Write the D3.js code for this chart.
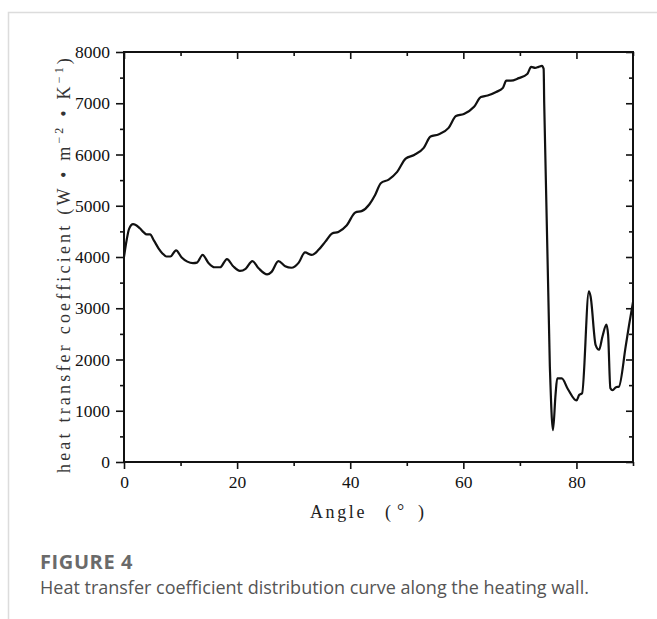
<!DOCTYPE html>
<html>
<head>
<meta charset="utf-8">
<script src="https://cdn.jsdelivr.net/npm/d3@7"></script>
<style>
  body { margin: 0; background: #fff; }
  svg { display: block; }
</style>
</head>
<body>
<div id="chart-area"></div>
<script>
// data: angle (deg) and heat transfer coefficient (W m-2 K-1)
const angles = [0, 0.2, 0.5, 0.9, 1.6, 2.0, 2.8, 3.5, 4.0, 4.6, 5.3, 6.1, 6.8, 7.5, 8.2, 9.2, 10.2, 11.2,
  12.2, 12.9, 13.9, 14.9, 16.0, 17.0, 18.2, 19.3, 20.5, 21.5, 22.7, 23.8, 25.3, 26.1, 27.3, 28.5, 29.6,
  30.9, 32.0, 33.2, 34.4, 35.6, 36.8, 37.9, 39.4, 40.9, 42.1, 43.4, 44.4, 45.4, 46.8, 48.3, 49.8, 51.3,
  53.0, 54.2, 55.6, 57.4, 58.7, 60.1, 61.9, 63.1, 64.3, 65.8, 67.0, 67.6, 68.4, 69.8, 71.3, 72.0, 72.7,
  73.3, 73.9, 74.2, 74.3, 75.3, 75.85, 76.3, 76.6, 77.4, 78.5, 80.0, 80.5, 81.0, 82.2, 82.5, 83.4, 84.0,
  84.6, 85.3, 85.6, 86.0, 86.4, 87.0, 87.5, 88.7, 89.3, 90];
const coefficients = [4000, 4150, 4350, 4550, 4640, 4630, 4560, 4480, 4440, 4440, 4320, 4170, 4070, 4010, 4010, 4130, 3990, 3910,
  3880, 3890, 4040, 3890, 3800, 3800, 3960, 3820, 3730, 3770, 3920, 3780, 3660, 3710, 3920, 3820, 3790,
  3890, 4090, 4040, 4140, 4300, 4460, 4490, 4620, 4870, 4900, 5030, 5210, 5440, 5510, 5660, 5920, 5990,
  6130, 6350, 6390, 6520, 6750, 6790, 6930, 7120, 7150, 7220, 7300, 7440, 7440, 7490, 7570, 7710, 7690,
  7710, 7730, 7670, 7000, 1860, 620, 1310, 1630, 1630, 1420, 1200, 1310, 1340, 3330, 3230, 2280, 2190,
  2450, 2680, 2480, 1440, 1400, 1460, 1470, 2250, 2670, 3120];

const xMajor = [0, 20, 40, 60, 80];
const xMinor = [10, 30, 50, 70, 90];
const yMajor = [0, 1000, 2000, 3000, 4000, 5000, 6000, 7000, 8000];
const yMinor = [500, 1500, 2500, 3500, 4500, 5500, 6500, 7500];

const margin = {top: 52, right: 24, bottom: 157, left: 124};
const width = 509;
const height = 410;

const svg = d3.select("#chart-area")
  .append("svg")
  .attr("width", 657)
  .attr("height", 619);

// card border (top and left only)
svg.append("path")
  .attr("d", "M8.5,619V12.5H657")
  .attr("fill", "none")
  .attr("stroke", "#dcdcdc")
  .attr("stroke-width", 1.5);

const group = svg.append("g")
  .attr("transform", `translate(${margin.left}, ${margin.top})`);

// scales
const x = d3.scaleLinear().domain([0, 90]).range([0, width]);
const y = d3.scaleLinear().domain([0, 8000]).range([height, 0]);

const serif = "'Liberation Serif', 'Times New Roman', serif";

function styleAxis(g) {
  g.select(".domain").remove();
  g.selectAll("line").attr("stroke", "#111").attr("stroke-width", 1.6);
  g.selectAll("text").attr("font-family", serif).attr("font-size", "17.5px").attr("fill", "#111");
}

// bottom
group.append("g").attr("transform", `translate(0, ${height})`)
  .call(d3.axisBottom(x).tickValues(xMajor).tickSize(7).tickPadding(7).tickFormat(d3.format("d")))
  .call(styleAxis);
group.append("g").attr("transform", `translate(0, ${height})`)
  .call(d3.axisBottom(x).tickValues(xMinor).tickSize(4).tickFormat(""))
  .call(styleAxis);

// top (inward)
group.append("g")
  .call(d3.axisTop(x).tickValues(xMajor).tickSize(-7).tickFormat(""))
  .call(styleAxis);
group.append("g")
  .call(d3.axisTop(x).tickValues(xMinor).tickSize(-4).tickFormat(""))
  .call(styleAxis);

// left
group.append("g")
  .call(d3.axisLeft(y).tickValues(yMajor).tickSize(8).tickPadding(6).tickFormat(d3.format("d")))
  .call(styleAxis);
group.append("g")
  .call(d3.axisLeft(y).tickValues(yMinor).tickSize(4).tickFormat(""))
  .call(styleAxis);

// right (inward)
group.append("g").attr("transform", `translate(${width}, 0)`)
  .call(d3.axisRight(y).tickValues(yMajor).tickSize(-7).tickFormat(""))
  .call(styleAxis);
group.append("g").attr("transform", `translate(${width}, 0)`)
  .call(d3.axisRight(y).tickValues(yMinor).tickSize(-4).tickFormat(""))
  .call(styleAxis);

// frame
group.append("rect")
  .attr("width", width)
  .attr("height", height)
  .attr("fill", "none")
  .attr("stroke", "#111")
  .attr("stroke-width", 2);

// curve
const points = angles.map((a, i) => [a, coefficients[i]]);
const line = d3.line().curve(d3.curveMonotoneX).x(d => x(d[0])).y(d => y(d[1]));
group.append("path")
  .datum(points)
  .attr("d", line)
  .attr("fill", "none")
  .attr("stroke", "#111")
  .attr("stroke-width", 2.2)
  .attr("stroke-linejoin", "round");

// x label
const xLabel = group.append("text")
  .attr("y", height + 56)
  .attr("font-family", serif)
  .attr("font-size", "18px")
  .attr("fill", "#222");
xLabel.append("tspan").attr("x", 186).attr("letter-spacing", "2.6px").text("Angle");
xLabel.append("tspan").attr("x", 261).text("(");
xLabel.append("tspan").attr("x", 273).attr("dy", -1).text("°");
xLabel.append("tspan").attr("x", 294).attr("dy", 1).text(")");

// y label
const yLabel = group.append("text")
  .attr("transform", "rotate(-90)")
  .attr("x", -212)
  .attr("y", -54)
  .attr("text-anchor", "middle")
  .attr("font-family", serif)
  .attr("font-size", "18px")
  .attr("letter-spacing", "3.2px")
  .attr("fill", "#333");
yLabel.append("tspan").text("heat  transfer  coefficient  (W • m");
yLabel.append("tspan").attr("dy", -7).attr("font-size", "12px").text("−2");
yLabel.append("tspan").attr("dy", 7).text(" • K");
yLabel.append("tspan").attr("dy", -7).attr("font-size", "12px").text("−1");
yLabel.append("tspan").attr("dy", 7).text(")");

// caption
svg.append("text")
  .attr("x", 40)
  .attr("y", 569)
  .attr("font-family", "'Open Sans', sans-serif")
  .attr("font-weight", "bold")
  .attr("font-size", "20px")
  .attr("letter-spacing", "0.6px")
  .attr("fill", "#6a6a6a")
  .text("FIGURE 4");

svg.append("text")
  .attr("x", 40)
  .attr("y", 594)
  .attr("font-family", "'Open Sans', sans-serif")
  .attr("font-size", "18px")
  .attr("fill", "#555")
  .text("Heat transfer coefficient distribution curve along the heating wall.");
</script>
</body>
</html>
